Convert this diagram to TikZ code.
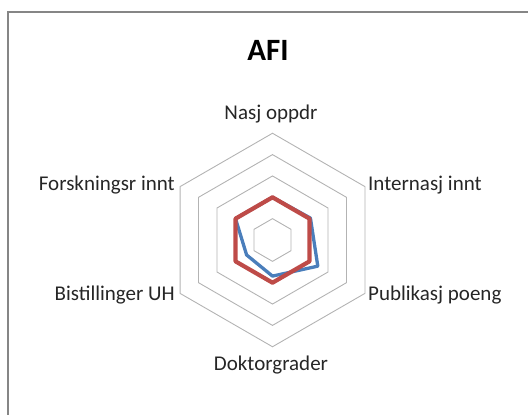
\documentclass[tikz,border=0pt]{standalone}
\usepackage{fontspec}
\setmainfont{Carlito}
\definecolor{serblue}{HTML}{4A7EBB}
\definecolor{serred}{HTML}{BE4B48}
\definecolor{gridgray}{HTML}{B3B3B3}
\definecolor{framegray}{HTML}{868686}
\begin{document}
\begin{tikzpicture}[x=1pt,y=-1pt,
  frame/.style={draw=framegray,line width=1.3pt},
  gridline/.style={draw=gridgray,line width=0.9pt},
  axlabel/.style={font=\fontsize{21}{25}\selectfont,text=black!85,inner sep=0pt},
  titlelabel/.style={font=\fontsize{31}{36}\selectfont\bfseries,inner sep=0pt},
  serieblue/.style={draw=serblue,line width=3.3pt,line join=round},
  seriered/.style={draw=serred,line width=4.2pt,line join=round}]
\useasboundingbox (0,0) rectangle (528,415);
\clip (0,0) rectangle (528,415);
\draw[frame] (8,12) rectangle (560,440);
\node[titlelabel] (title) at (268,50) {AFI};
\begin{scope}[shift={(272.5,240)}]
  \foreach \k in {1,3,4,5} {
    \draw[gridline] (-90:21.35*\k) -- (-30:21.35*\k) -- (30:21.35*\k) -- (90:21.35*\k) -- (150:21.35*\k) -- (210:21.35*\k) -- cycle;
  }
  \draw[gridline] (-90:42.7) -- (-30:42.7) -- (30:42.7) -- (90:42.7) -- (150:42.7) -- (210:42.7) -- cycle;
  \coordinate (b1) at (-90:42.7);
  \coordinate (b2) at (-30:43.8);
  \coordinate (b3) at (30:52.3);
  \coordinate (b4) at (90:36.1);
  \coordinate (b5) at (150:29.9);
  \coordinate (b6) at (210:42.7);
  \draw[serieblue] (b1) -- (b2) -- (b3) -- (b4) -- (b5) -- (b6) -- cycle;
  \coordinate (r1) at (-90:42.7);
  \coordinate (r2) at (-30:42.7);
  \coordinate (r3) at (30:42.7);
  \coordinate (r4) at (90:42.7);
  \coordinate (r5) at (150:42.7);
  \coordinate (r6) at (210:42.7);
  \draw[seriered] (r1) -- (r2) -- (r3) -- (r4) -- (r5) -- (r6) -- cycle;
\end{scope}
\node[axlabel] (nasj) at (271,114) {Nasj oppdr};
\node[axlabel,anchor=west] (intern) at (368,185) {Internasj innt};
\node[axlabel,anchor=west] (publ) at (368,295) {Publikasj poeng};
\node[axlabel] (dokt) at (271,365) {Doktorgrader};
\node[axlabel,anchor=east] (bist) at (175,295) {Bistillinger UH};
\node[axlabel,anchor=east] (forsk) at (175,185) {Forskningsr innt};
\end{tikzpicture}
\end{document}
